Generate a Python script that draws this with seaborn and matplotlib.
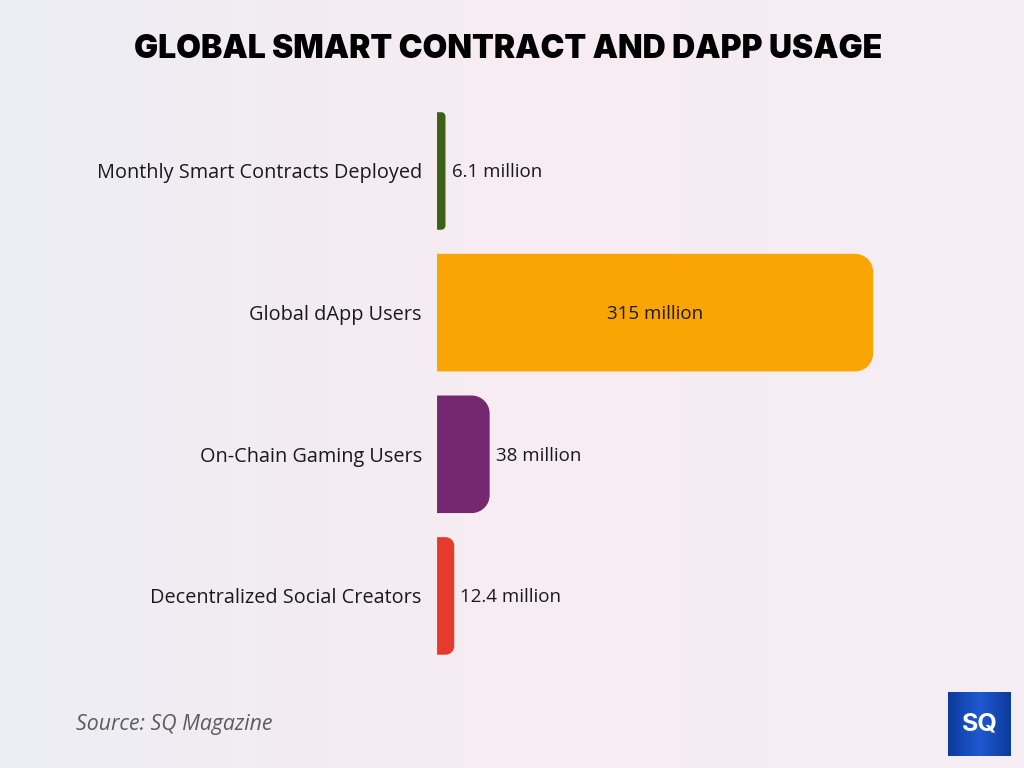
import numpy as np
import pandas as pd
import matplotlib.pyplot as plt
import seaborn as sns
from matplotlib.path import Path
from matplotlib.patches import PathPatch
from matplotlib.colors import LinearSegmentedColormap

categories = ['Monthly Smart Contracts Deployed', 'Global dApp Users',
              'On-Chain Gaming Users', 'Decentralized Social Creators']
values = [6.1, 315, 38, 12.4]
labels = ['6.1 million', '315 million', '38 million', '12.4 million']
colors = ['#3b6016', '#fba504', '#74286f', '#e53a2d']

df = pd.DataFrame({'category': categories, 'value': values})

sns.set_theme(style='white')
plt.rcParams['font.family'] = ['Open Sans', 'DejaVu Sans']

fig = plt.figure(figsize=(10.24, 7.68), dpi=100)

# soft gradient background
bg = fig.add_axes([0, 0, 1, 1], zorder=-10)
grad_cmap = LinearSegmentedColormap.from_list('bg', ['#eceef4', '#f7ecf1', '#f4eef4'])
gx = np.linspace(0, 1, 256)
gy = np.linspace(0, 1, 2)
X, Y = np.meshgrid(gx, gy)
bg.imshow(X, cmap=grad_cmap, aspect='auto', extent=[0, 1, 0, 1])
bg.axis('off')

ax = fig.add_axes([0.4268, 0.1318, 0.55, 0.7378])
ax.patch.set_alpha(0)
sns.barplot(data=df, x='value', y='category', hue='category', palette=colors,
            orient='h', width=0.83, saturation=1, legend=False, ax=ax)
ax.set_xlim(0, 406.8)
ax.set_ylim(3.5, -0.5)


# swap square bars for bars with rounded right ends
def rounded_bar(ax, bar, r_px=18):
    x0, y0 = bar.get_x(), bar.get_y()
    w, h = bar.get_width(), bar.get_height()
    p0 = ax.transData.transform((0, 0))
    p1 = ax.transData.transform((1, 1))
    sx, sy = abs(p1[0] - p0[0]), abs(p1[1] - p0[1])
    w_px = w * sx
    r = min(r_px, w_px / 2)
    rx, ry = r / sx, r / sy
    k = 0.5523
    x1, y1 = x0 + w, y0 + h
    verts = [(x0, y0), (x1 - rx, y0),
             (x1 - rx + k * rx, y0), (x1, y0 + ry - k * ry), (x1, y0 + ry),
             (x1, y1 - ry),
             (x1, y1 - ry + k * ry), (x1 - rx + k * rx, y1), (x1 - rx, y1),
             (x0, y1), (x0, y0)]
    codes = [Path.MOVETO, Path.LINETO,
             Path.CURVE4, Path.CURVE4, Path.CURVE4,
             Path.LINETO,
             Path.CURVE4, Path.CURVE4, Path.CURVE4,
             Path.LINETO, Path.CLOSEPOLY]
    patch = PathPatch(Path(verts, codes), facecolor=bar.get_facecolor(),
                      edgecolor='none')
    ax.add_patch(patch)
    bar.set_visible(False)


bars = list(ax.patches)
for bar in bars:
    rounded_bar(ax, bar)

for bar, val, lab in zip(bars, values, labels):
    yc = bar.get_y() + bar.get_height() / 2 + 0.01
    if val > 200:
        ax.text(val / 2, yc, lab, ha='center', va='center', fontsize=13.5,
                color='#1a1a1a')
    else:
        ax.text(val + 4.5, yc, lab, ha='left', va='center', fontsize=13.5,
                color='#1a1a1a')

ax.set_xlabel('')
ax.set_ylabel('')
ax.set_xticks([])
ax.tick_params(axis='y', length=0, pad=11, labelsize=14.3, labelcolor='#1a1a1a')
for s in ax.spines.values():
    s.set_visible(False)

fig.text(0.496, 0.935, 'GLOBAL SMART CONTRACT AND DAPP USAGE', ha='center',
         va='center', fontsize=23, fontweight='black', color='#000000',
         family=['Inter', 'DejaVu Sans'])

fig.text(0.074, 0.056, 'Source: SQ Magazine', ha='left', va='center',
         fontsize=15.3, style='italic', color='#5c5c5c')

# logo
logo = fig.add_axes([948 / 1024, 1 - 756 / 768, 63 / 1024, 64 / 768])
logo.set_xlim(0, 1)
logo.set_ylim(0, 1)
logo.axis('off')
lg = LinearSegmentedColormap.from_list('lg', ['#0c3a9c', '#1f5ad0', '#0c3a9c'])
logo.imshow(X, cmap=lg, aspect='auto', extent=[0, 1, 0, 1])
logo.text(0.5, 0.5, 'SQ', ha='center', va='center', fontsize=18,
          fontweight='bold', color='white', family=['Inter', 'DejaVu Sans'])

fig.savefig('out.png', dpi=100)
